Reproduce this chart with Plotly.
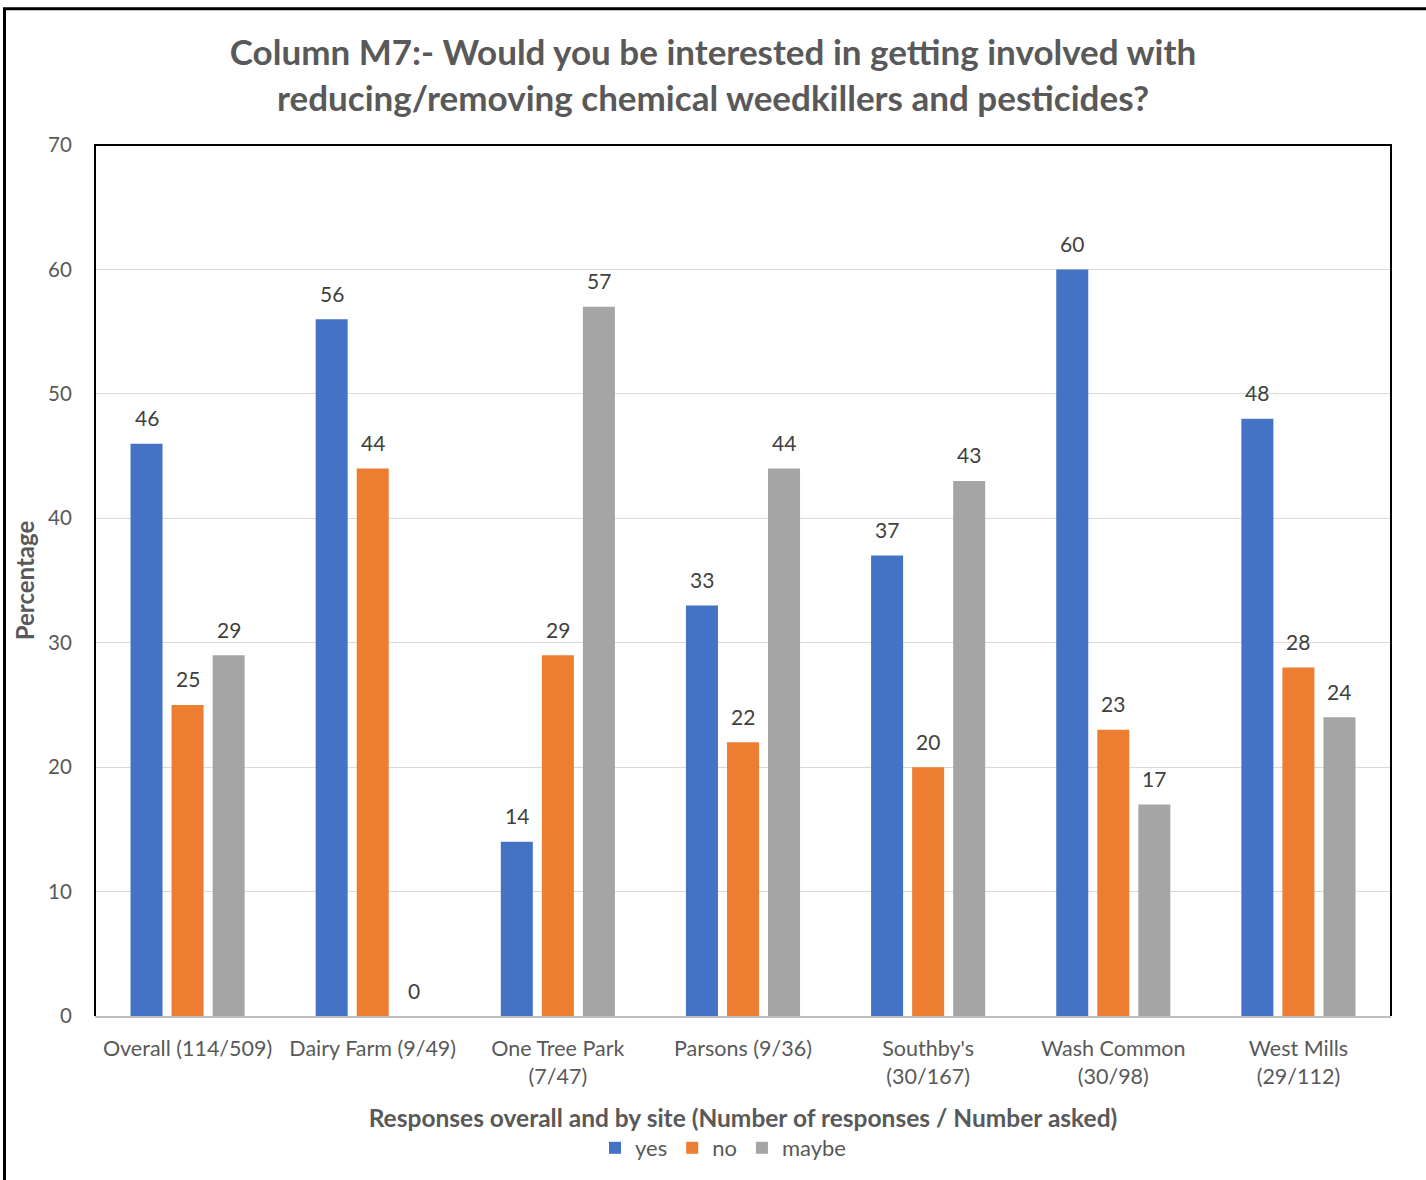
import plotly.graph_objects as go

# Survey responses by site, percentages
sites = [
    "Overall (114/509)",
    "Dairy Farm (9/49)",
    "One Tree Park<br>(7/47)",
    "Parsons (9/36)",
    "Southby's<br>(30/167)",
    "Wash Common<br>(30/98)",
    "West Mills<br>(29/112)",
]
yes_pct = [46, 56, 14, 33, 37, 60, 48]
no_pct = [25, 44, 29, 22, 20, 23, 28]
maybe_pct = [29, 0, 57, 44, 43, 17, 24]
y_ticks = [0, 10, 20, 30, 40, 50, 60, 70]

W, H = 1426, 1180
L, R, T, B = 95, 35, 145, 163
PW, PH = W - L - R, H - T - B
BARGAP, GROUPGAP = 0.335, 0.22

FONT = "Lato, 'Open Sans', sans-serif"
GREY_TXT = "#595959"

series = [
    ("yes", yes_pct, "#4472C4"),
    ("no", no_pct, "#ED7D31"),
    ("maybe", maybe_pct, "#A5A5A5"),
]

fig = go.Figure()
for name, vals, col in series:
    fig.add_trace(go.Bar(
        name=name, x=sites, y=vals, marker=dict(color=col, line=dict(width=0)),
    ))

# value labels above each bar, offset to the bar's slot within its group
slot_px = PW / len(sites) * (1 - BARGAP) / len(series)
annotations = []
for i, (name, vals, col) in enumerate(series):
    for site, v in zip(sites, vals):
        annotations.append(dict(
            x=site, y=v, xref="x", yref="y", text=str(v), showarrow=False,
            xshift=(i - 1) * slot_px, yshift=26, yanchor="middle",
            font=dict(family=FONT, size=21, color="#404040"),
        ))

def px_x(p):
    return (p - L) / PW

def px_y(p):
    return (H - B - p) / PH

shapes = [
    # frame of the plot area (top, left, right)
    dict(type="path", xref="paper", yref="paper",
         path="M 0,0 L 0,1 L 1,1 L 1,0", line=dict(color="black", width=2)),
    # outer chart frame
    dict(type="path", xref="paper", yref="paper",
         path=f"M {px_x(4.5)},{px_y(1185)} L {px_x(4.5)},{px_y(8.5)} L {px_x(1430)},{px_y(8.5)}",
         line=dict(color="black", width=3)),
]

fig.update_layout(
    width=W, height=H,
    margin=dict(l=L, r=R, t=T, b=B),
    paper_bgcolor="white", plot_bgcolor="white",
    barmode="group", bargap=BARGAP, bargroupgap=GROUPGAP,
    font=dict(family=FONT, color=GREY_TXT),
    title=dict(
        text="Column M7:- Would you be interested in getting involved with<br>reducing/removing chemical weedkillers and pesticides?",
        x=0.5, xanchor="center", y=1 - 65 / H, yanchor="middle",
        font=dict(family=FONT, size=35, color=GREY_TXT, weight="bold"),
    ),
    xaxis=dict(
        showline=True, linecolor="#BFBFBF", linewidth=2,
        tickfont=dict(family=FONT, size=21.5, color=GREY_TXT),
        title=dict(text="Responses overall and by site (Number of responses / Number asked)",
                   font=dict(family=FONT, size=24.5, color=GREY_TXT, weight="bold"),
                   standoff=22),
        ticks="outside", ticklen=12, tickcolor="rgba(0,0,0,0)",
    ),
    yaxis=dict(
        range=[0, 70], tickvals=y_ticks, showgrid=True, gridcolor="#D9D9D9", gridwidth=1,
        zeroline=False, showline=False,
        tickfont=dict(family=FONT, size=20.5, color=GREY_TXT),
        ticks="outside", ticklen=18, tickcolor="rgba(0,0,0,0)",
        title=dict(text="Percentage",
                   font=dict(family=FONT, size=24, color=GREY_TXT, weight="bold"),
                   standoff=6),
    ),
    legend=dict(
        orientation="h", x=0.5 - 20 / PW, xanchor="center", y=px_y(1148), yanchor="middle",
        font=dict(family=FONT, size=22, color=GREY_TXT),
        itemwidth=30, tracegroupgap=0,
    ),
    annotations=annotations,
    shapes=shapes,
)

fig.write_html("out.html")
